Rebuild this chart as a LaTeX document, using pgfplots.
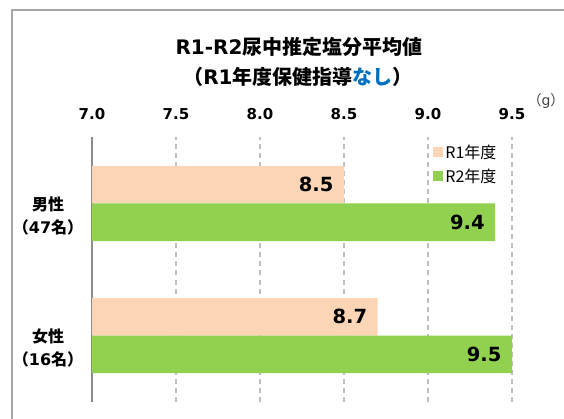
\documentclass[border=0pt]{standalone}
\usepackage{fontspec}
\setmainfont{DejaVu Sans}
\newfontfamily\jp{Noto Sans CJK JP}
\usepackage{xcolor}
\usepackage{pgfplots}
\pgfplotsset{compat=1.18}

\definecolor{r1c}{HTML}{FBD5B5}
\definecolor{r2c}{HTML}{92D050}
\definecolor{nasi}{HTML}{0070C0}
\definecolor{gridc}{HTML}{BFBFBF}
\definecolor{framec}{HTML}{A6A6A6}

\begin{document}
\begin{tikzpicture}
\useasboundingbox (0pt,0pt) rectangle (564pt,-419pt);
% outer frame (cut by the page on the right and bottom)
\draw[framec, line width=1.3pt] (12pt,-600pt) -- (12pt,-10pt) -- (800pt,-10pt);

\node[font=\bfseries\fontsize{20}{24}\selectfont] at (299pt,-47pt)
  {R1-R2{\jp 尿中推定塩分平均値}};
\node[font=\bfseries\fontsize{20}{24}\selectfont] at (298pt,-77pt)
  {{\jp （}R1{\jp 年度保健指導\textcolor{nasi}{なし}）}};
\node[font=\fontsize{14}{16}\selectfont, text=black!75] at (546pt,-101pt) {{\jp （}g{\jp ）}};

\begin{axis}[
  at={(92pt,-401.5pt)}, anchor=south west,
  scale only axis,
  width=420pt, height=264pt,
  xbar, bar width=37.5pt,
  xmin=7, xmax=9.5, ymin=-0.5, ymax=1.5,
  axis y line*=left, axis x line*=top,
  x axis line style={draw=none},
  y axis line style={-, draw=black!45, line width=1.3pt},
  tick style={draw=none},
  xtick={7,7.5,...,9.5},
  xmajorgrids,
  grid style={gridc, line width=1.3pt, dash pattern=on 5pt off 4pt},
  /pgf/number format/assume math mode=true,
  /pgf/number format/fixed, /pgf/number format/fixed zerofill,
  /pgf/number format/precision=1,
  xticklabel style={font=\bfseries\fontsize{15}{16}\selectfont, yshift=14pt},
  ytick={0,1},
  yticklabels={{\jp 女性}\\{\jp （}16{\jp 名）},{\jp 男性}\\{\jp （}47{\jp 名）}},
  yticklabel style={font=\bfseries\fontsize{16}{23}\selectfont, align=center, yshift=-12pt, xshift=-1pt},
  nodes near coords,
  nodes near coords style={anchor=east, xshift=-7pt, font=\bfseries\fontsize{19.5}{22}\selectfont, text=black},
  legend style={at={(0.81,0.985)}, anchor=north west, draw=none, fill=none,
    font=\jp\fontsize{16}{18}\selectfont, row sep=5pt, inner sep=1pt},
  legend cell align=left,
  legend image code/.code={\fill[#1] (0pt,-5pt) rectangle (10pt,5pt);},
]
\addplot[fill=r1c, draw=none, bar shift=18.75pt] coordinates {(8.5,1) (8.7,0)};
\addplot[fill=r2c, draw=none, bar shift=-18.75pt] coordinates {(9.4,1) (9.5,0)};
\legend{R1年度, R2年度}
\end{axis}
\end{tikzpicture}
\end{document}
